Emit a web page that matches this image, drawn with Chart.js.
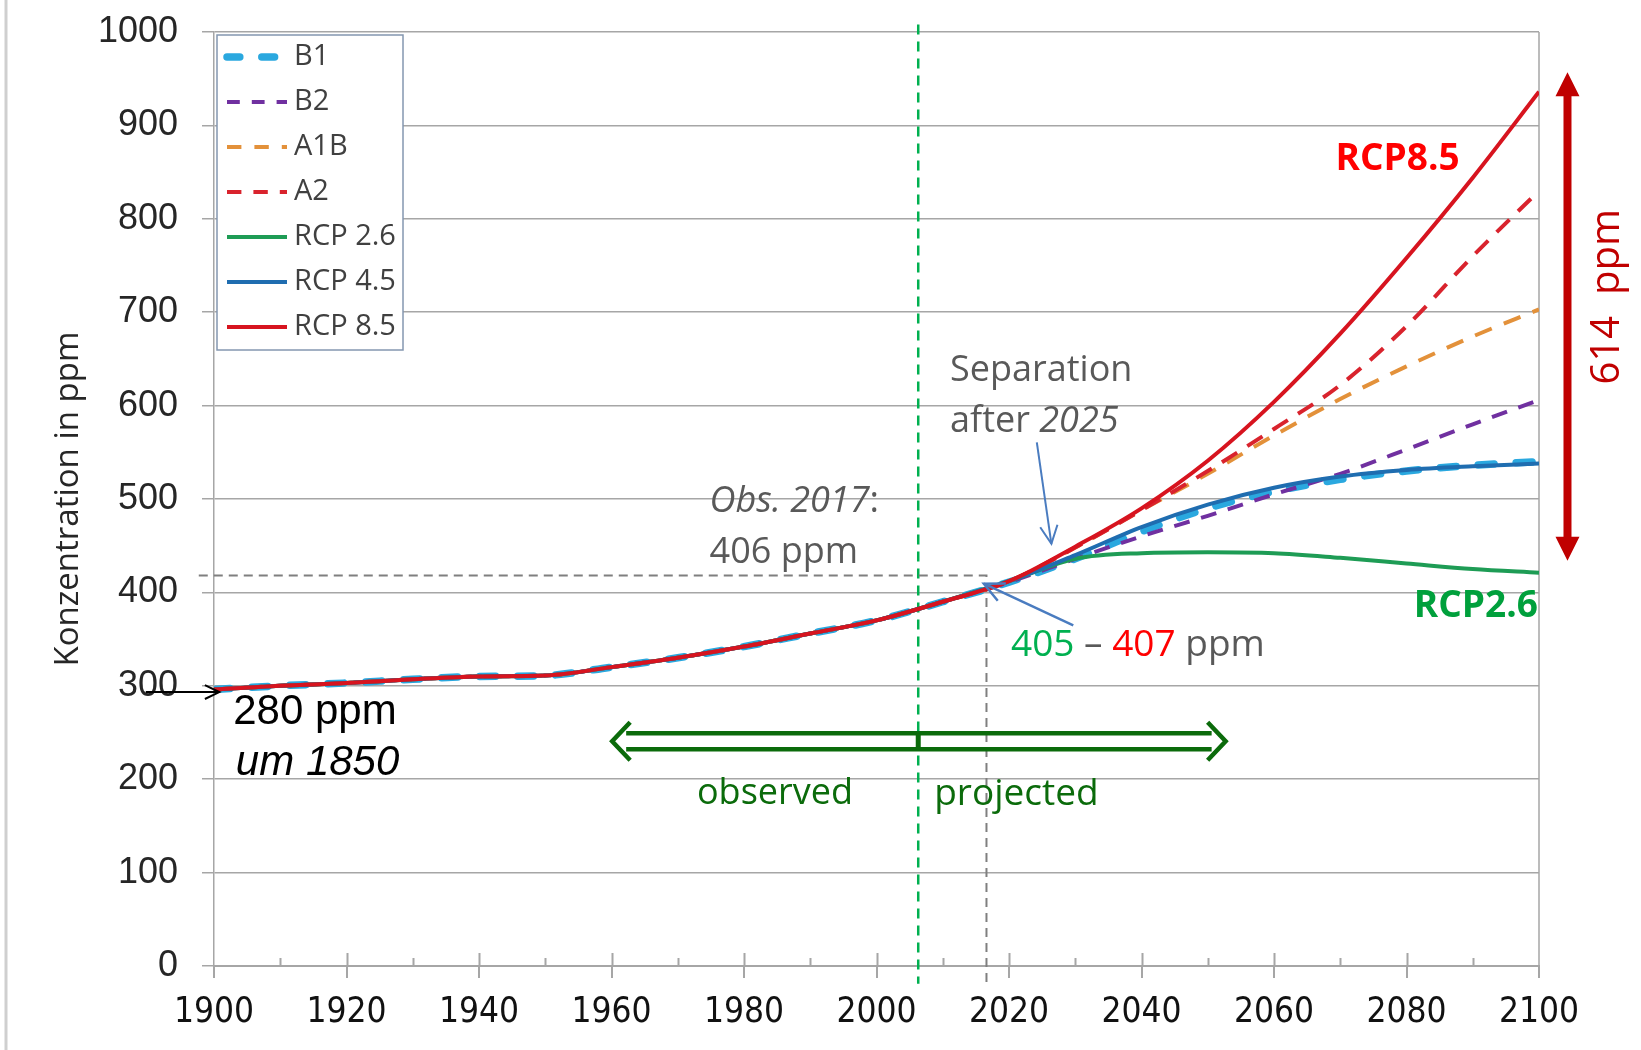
<!DOCTYPE html>
<html>
<head>
<meta charset="utf-8">
<script src="https://cdn.jsdelivr.net/npm/chart.js@4.4.1/dist/chart.umd.min.js"></script>
<style>
    html, body { margin: 0; padding: 0; background: #fff; }
    canvas { display: block; }
</style>
</head>
<body>
<canvas id="co2Chart" width="1641" height="1050"></canvas>
<script>
// --- Données ---
const histYears = [1900, 1910, 1920, 1930, 1940, 1950, 1960, 1970, 1980, 1990, 2000, 2010];
const histCO2   = [296, 300, 303, 307, 310, 311, 320, 330, 342, 356, 370, 390];

const projYears = [2020, 2030, 2040, 2050, 2060, 2070, 2080, 2090, 2100];
const sresB1  = [411, 436, 465, 490, 508, 521, 530, 536, 540];
const sresB2  = [411, 436, 460, 482, 505, 527, 553, 580, 606];
const sresA1B = [412, 448, 488, 527, 568, 607, 642, 674, 703];
const sresA2  = [412, 448, 488, 530, 575, 622, 685, 760, 830];
const rcp26   = [412, 436, 442, 443, 442, 437, 431, 425, 421];
const rcp45   = [412, 440, 470, 494, 512, 524, 531, 535, 538];
const rcp85   = [412, 449, 490, 541, 604, 677, 758, 844, 936];

const seriesNames = ['B1', 'B2', 'A1B', 'A2', 'RCP 2.6', 'RCP 4.5', 'RCP 8.5'];
const xLabelYears = [1900, 1920, 1940, 1960, 1980, 2000, 2020, 2040, 2060, 2080, 2100];
const yTickValues = [0, 100, 200, 300, 400, 500, 600, 700, 800, 900, 1000];

// Historique commun + projection
function makeSeries(proj) {
    const hist = histYears.map((yr, i) => ({ x: yr, y: histCO2[i] }));
    return hist.concat(projYears.map((yr, i) => ({ x: yr, y: proj[i] })));
}

const styles = [
    { color: '#2aa8df', width: 7.5, dash: [16, 22], cap: 'round' },
    { color: '#7030a0', width: 4,   dash: [16, 12], cap: 'butt' },
    { color: '#e3913a', width: 4,   dash: [18, 13], cap: 'butt' },
    { color: '#d9232d', width: 4,   dash: [18, 12], cap: 'butt' },
    { color: '#1e9c55', width: 4,   dash: [],       cap: 'butt' },
    { color: '#1f6db0', width: 4,   dash: [],       cap: 'butt' },
    { color: '#d7141f', width: 4,   dash: [],       cap: 'butt' }
];
const seriesData = [sresB1, sresB2, sresA1B, sresA2, rcp26, rcp45, rcp85];

const datasets = seriesData.map((arr, i) => ({
    label: seriesNames[i],
    data: makeSeries(arr),
    borderColor: styles[i].color,
    borderWidth: styles[i].width,
    borderDash: styles[i].dash,
    borderCapStyle: styles[i].cap,
    pointRadius: 0,
    fill: false,
    cubicInterpolationMode: 'monotone',
    order: seriesData.length - i
}));

const GREY_TXT = '#595959';
const AXIS_GREY = '#a6a6a6';
const SANS = '"Open Sans", "Noto Sans", sans-serif';
const ARIAL = '"Liberation Sans", Arial, sans-serif';

// --- Dessin de texte avec plusieurs styles ---
function drawRuns(ctx, x, y, runs) {
    ctx.textBaseline = 'middle';
    ctx.textAlign = 'left';
    let cx = x;
    runs.forEach(r => {
        ctx.font = r.font;
        ctx.fillStyle = r.color;
        ctx.fillText(r.text, cx, y);
        cx += ctx.measureText(r.text).width;
    });
}

function openHead(ctx, x1, y1, x2, y2, len, spread) {
    const a = Math.atan2(y2 - y1, x2 - x1);
    ctx.beginPath();
    ctx.moveTo(x2 - len * Math.cos(a - spread), y2 - len * Math.sin(a - spread));
    ctx.lineTo(x2, y2);
    ctx.lineTo(x2 - len * Math.cos(a + spread), y2 - len * Math.sin(a + spread));
    ctx.stroke();
}

function arrow(ctx, x1, y1, x2, y2, color, width, len) {
    ctx.strokeStyle = color;
    ctx.lineWidth = width;
    ctx.setLineDash([]);
    ctx.beginPath();
    ctx.moveTo(x1, y1);
    ctx.lineTo(x2, y2);
    ctx.stroke();
    openHead(ctx, x1, y1, x2, y2, len, 0.45);
}

// --- Lignes de repère (sous les courbes) ---
const guideLines = {
    id: 'guideLines',
    beforeDatasetsDraw(chart) {
        const { ctx, chartArea, scales: { x, y } } = chart;
        ctx.save();
        // bordure droite du graphique
        ctx.strokeStyle = AXIS_GREY;
        ctx.lineWidth = 1.5;
        ctx.beginPath();
        ctx.moveTo(chartArea.right, chartArea.top);
        ctx.lineTo(chartArea.right, chartArea.bottom);
        ctx.stroke();

        // graduations intérieures de l'axe x
        ctx.lineWidth = 2;
        ctx.beginPath();
        x.ticks.forEach(t => {
            if (t.value <= x.min || t.value >= x.max) return;
            const xp = Math.round(x.getPixelForValue(t.value)) + 0.5;
            const up = xLabelYears.includes(t.value) ? 13 : 8;
            ctx.moveTo(xp, chartArea.bottom);
            ctx.lineTo(xp, chartArea.bottom - up);
        });
        ctx.stroke();

        // vertical vert pointillé (observé / projeté)
        ctx.strokeStyle = '#00b050';
        ctx.lineWidth = 2.5;
        ctx.setLineDash([10, 7]);
        ctx.beginPath();
        ctx.moveTo(x.getPixelForValue(2006.3), y.getPixelForValue(1008));
        ctx.lineTo(x.getPixelForValue(2006.3), y.getPixelForValue(-19));
        ctx.stroke();

        // repères gris 2017
        ctx.strokeStyle = '#7f7f7f';
        ctx.lineWidth = 2;
        ctx.setLineDash([9, 6]);
        ctx.beginPath();
        ctx.moveTo(x.getPixelForValue(1897.7), y.getPixelForValue(418));
        ctx.lineTo(x.getPixelForValue(2016.6), y.getPixelForValue(418));
        ctx.lineTo(x.getPixelForValue(2016.6), y.getPixelForValue(-19));
        ctx.stroke();
        ctx.restore();
    }
};

// --- Annotations et légende ---
const annotations = {
    id: 'annotations',
    afterDraw(chart) {
        const { ctx, chartArea, scales: { x, y } } = chart;
        const px = v => x.getPixelForValue(v);
        const py = v => y.getPixelForValue(v);
        ctx.save();

        // bordure gauche de la diapositive
        ctx.strokeStyle = '#cfcfcf';
        ctx.lineWidth = 3;
        ctx.beginPath();
        ctx.moveTo(6, 0);
        ctx.lineTo(6, chart.height);
        ctx.stroke();

        // légende
        const lx = chartArea.left + 3, ly = chartArea.top + 3, lw = 186, lh = 315;
        ctx.fillStyle = '#fff';
        ctx.fillRect(lx, ly, lw, lh);
        ctx.strokeStyle = '#8497b0';
        ctx.lineWidth = 1.5;
        ctx.strokeRect(lx, ly, lw, lh);
        chart.data.datasets.forEach((ds, i) => {
            const cy = ly + 22 + i * 45;
            ctx.strokeStyle = ds.borderColor;
            ctx.lineWidth = ds.borderWidth;
            ctx.lineCap = ds.borderCapStyle;
            ctx.setLineDash(ds.borderDash.length ? [ds.borderDash[0] * 0.8, ds.borderDash[1]] : []);
            ctx.beginPath();
            ctx.moveTo(lx + 10, cy);
            ctx.lineTo(lx + 70, cy);
            ctx.stroke();
            ctx.setLineDash([]);
            ctx.lineCap = 'butt';
            drawRuns(ctx, lx + 77, cy, [{ text: ds.label, font: '29px ' + SANS, color: '#404040' }]);
        });

        // textes
        drawRuns(ctx, px(1974.8), py(497), [
            { text: 'Obs. 2017', font: 'italic 36px ' + SANS, color: GREY_TXT },
            { text: ':', font: '36px ' + SANS, color: GREY_TXT }
        ]);
        drawRuns(ctx, px(1974.8), py(442), [{ text: '406 ppm', font: '36px ' + SANS, color: GREY_TXT }]);
        drawRuns(ctx, px(2011.1), py(637), [{ text: 'Separation', font: '36px ' + SANS, color: GREY_TXT }]);
        drawRuns(ctx, px(2011.1), py(583), [
            { text: 'after ', font: '36px ' + SANS, color: GREY_TXT },
            { text: '2025', font: 'italic 36px ' + SANS, color: GREY_TXT }
        ]);
        drawRuns(ctx, px(2020.3), py(343), [
            { text: '405', font: '37px ' + SANS, color: '#00b050' },
            { text: ' \u2013 ', font: '37px ' + SANS, color: GREY_TXT },
            { text: '407', font: '37px ' + SANS, color: '#ff0000' },
            { text: ' ppm', font: '37px ' + SANS, color: GREY_TXT }
        ]);
        drawRuns(ctx, px(1902.9), py(271), [{ text: '280 ppm', font: '42px ' + ARIAL, color: '#000' }]);
        drawRuns(ctx, px(1903.3), py(217), [{ text: 'um 1850', font: 'italic 42px ' + ARIAL, color: '#000' }]);
        drawRuns(ctx, px(1972.9), py(184), [{ text: 'observed', font: '36px ' + SANS, color: '#0b6b0b' }]);
        drawRuns(ctx, px(2008.7), py(184), [{ text: 'projected', font: '37px ' + SANS, color: '#0b6b0b' }]);
        drawRuns(ctx, px(2069.3), py(864), [{ text: 'RCP8.5', font: 'bold 37px ' + SANS, color: '#ff0000' }]);
        drawRuns(ctx, px(2081.1), py(385), [{ text: 'RCP2.6', font: 'bold 37px ' + SANS, color: '#00a03c' }]);

        // flèche noire 280 ppm
        arrow(ctx, px(1889.7), py(293.3), px(1900.8), py(293.3), '#000', 2, 16);

        // flèches bleues
        arrow(ctx, px(2024.2), py(560.7), px(2026.4), py(452), '#4a7cc0', 2, 20);
        arrow(ctx, px(2029.7), py(364.7), px(2016.2), py(409.3), '#4a7cc0', 2.5, 22);

        // double flèche verte creuse observé / projeté
        const xa = px(1960.1), xb = px(2052.7), yc = py(240.6);
        const half = 8, hl = 18, hw = 19;
        ctx.strokeStyle = '#0b6b0b';
        ctx.lineWidth = 4.5;
        ctx.lineJoin = 'miter';
        ctx.beginPath();
        ctx.moveTo(xa + hl - 4, yc - half); ctx.lineTo(xb - hl + 4, yc - half);
        ctx.moveTo(xa + hl - 4, yc + half); ctx.lineTo(xb - hl + 4, yc + half);
        ctx.moveTo(xa + hl, yc - hw); ctx.lineTo(xa, yc); ctx.lineTo(xa + hl, yc + hw);
        ctx.moveTo(xb - hl, yc - hw); ctx.lineTo(xb, yc); ctx.lineTo(xb - hl, yc + hw);
        ctx.stroke();
        ctx.lineWidth = 5;
        ctx.beginPath();
        ctx.moveTo(px(2006.3), yc - half);
        ctx.lineTo(px(2006.3), yc + half);
        ctx.stroke();

        // double flèche rouge 614 ppm
        const rx = px(2104.3), rtop = py(957), rbot = py(434);
        const ah = 24, aw = 12;
        ctx.fillStyle = '#c00000';
        ctx.strokeStyle = '#c00000';
        ctx.lineWidth = 8;
        ctx.beginPath();
        ctx.moveTo(rx, rtop + ah - 2);
        ctx.lineTo(rx, rbot - ah + 2);
        ctx.stroke();
        ctx.beginPath();
        ctx.moveTo(rx, rtop); ctx.lineTo(rx - aw, rtop + ah); ctx.lineTo(rx + aw, rtop + ah); ctx.closePath();
        ctx.moveTo(rx, rbot); ctx.lineTo(rx - aw, rbot - ah); ctx.lineTo(rx + aw, rbot - ah); ctx.closePath();
        ctx.fill();

        ctx.translate(px(2110.3), py(716.6));
        ctx.rotate(-Math.PI / 2);
        ctx.font = '40px ' + SANS;
        ctx.fillStyle = '#c00000';
        ctx.textAlign = 'center';
        ctx.textBaseline = 'middle';
        ctx.fillText('614  ppm', 0, 0);

        ctx.restore();
    }
};

new Chart(document.getElementById('co2Chart').getContext('2d'), {
    type: 'line',
    data: { datasets },
    options: {
        responsive: false,
        animation: false,
        layout: { padding: { left: 0, top: 32, right: 102, bottom: 20 } },
        plugins: {
            legend: { display: false },
            tooltip: { enabled: false }
        },
        scales: {
            x: {
                type: 'linear',
                min: 1900,
                max: 2100,
                afterFit: s => { s.height = 64; s.paddingLeft = 0; s.paddingRight = 0; },
                border: { color: AXIS_GREY, width: 2 },
                grid: {
                    drawOnChartArea: false,
                    drawTicks: true,
                    tickLength: 12,
                    lineWidth: 2,
                    color: AXIS_GREY,
                    tickColor: c => (c.tick && xLabelYears.includes(c.tick.value)) ? AXIS_GREY : 'rgba(0,0,0,0)'
                },
                ticks: {
                    stepSize: 10,
                    autoSkip: false,
                    maxRotation: 0,
                    padding: 14,
                    color: '#111',
                    font: { family: '"DejaVu Sans Condensed", "DejaVu Sans", sans-serif', size: 35 },
                    callback: v => xLabelYears.includes(v) ? String(v) : ''
                }
            },
            y: {
                min: 0,
                max: 1000,
                afterFit: s => { s.width = 214; s.paddingTop = 0; s.paddingBottom = 0; },
                afterBuildTicks: s => { s.ticks = yTickValues.map(v => ({ value: v })); },
                border: { color: AXIS_GREY, width: 1.5 },
                grid: { color: AXIS_GREY, lineWidth: 1.5, tickLength: 12 },
                ticks: {
                    padding: 24,
                    color: '#262626',
                    font: { family: ARIAL, size: 36 },
                    callback: v => String(v)
                },
                title: {
                    display: true,
                    text: 'Konzentration in ppm',
                    color: '#262626',
                    font: { family: SANS, size: 33 },
                    padding: { top: 49, bottom: 0 }
                }
            }
        }
    },
    plugins: [guideLines, annotations]
});
</script>
</body>
</html>
